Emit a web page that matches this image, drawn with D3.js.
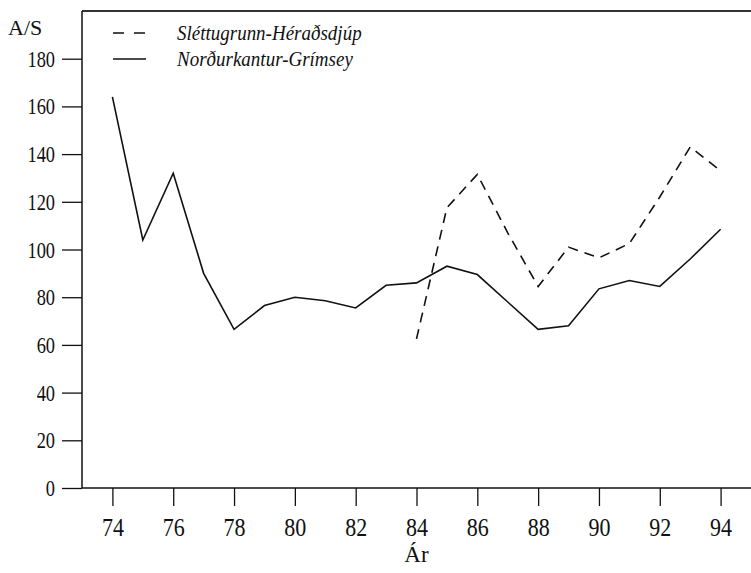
<!DOCTYPE html>
<html>
<head>
<meta charset="utf-8">
<script src="https://cdn.jsdelivr.net/npm/d3@7/dist/d3.min.js"></script>
<style>
  html, body { margin: 0; padding: 0; background: #fff; }
  svg { display: block; }
</style>
</head>
<body>
<svg id="chart" width="751" height="573"></svg>
<script>
// Ár (tveggja stafa ártal) og vísitala A/S fyrir hvort svæði
const yearsNG = [74, 75, 76, 77, 78, 79, 80, 81, 82, 83, 84, 85, 86, 87, 88, 89, 90, 91, 92, 93, 94];
const valuesNG = [164, 104, 132, 90, 66.5, 76.5, 80, 78.5, 75.5, 85, 86, 93, 89.5, 78, 66.5, 68, 83.5, 87, 84.5, 96, 108.5];

const yearsSH = [84, 85, 86, 87, 88, 89, 90, 91, 92, 93, 94];
const valuesSH = [62.5, 117.5, 131.5, 107, 84.5, 101, 96.5, 102.5, 122, 143, 133];

const xTicks = [74, 76, 78, 80, 82, 84, 86, 88, 90, 92, 94];
const yTicks = [0, 20, 40, 60, 80, 100, 120, 140, 160, 180];

const seriesNames = ["Sléttugrunn-Héraðsdjúp", "Norðurkantur-Grímsey"];

const serif = "'Liberation Serif'";

const svg = d3.select("#chart");
const plotL = 82, plotR = 751, plotT = 11, plotB = 488;

const x = d3.scaleLinear().domain([73, 95]).range([plotL, plotR]);
const y = d3.scaleLinear().domain([0, 200]).range([plotB, plotT]);

const ink = "#111";
const ySqueeze = 0.8;   // narrow, tall digits
const xSqueeze = 0.88;
const legendSqueeze = 0.95;

// top frame line
svg.append("line")
  .attr("x1", plotL).attr("x2", plotR)
  .attr("y1", plotT).attr("y2", plotT)
  .attr("stroke", "#333").attr("stroke-width", 2);

// y axis
const yAxis = svg.append("g")
  .attr("transform", `translate(${plotL},0)`)
  .call(d3.axisLeft(y).tickValues(yTicks).tickSizeInner(20).tickSizeOuter(0).tickPadding(8));
yAxis.attr("font-family", null);
yAxis.select(".domain").attr("stroke", ink).attr("stroke-width", 1.5)
  .attr("d", `M0,${plotT}V${plotB}`);
yAxis.selectAll(".tick line").attr("stroke", ink).attr("stroke-width", 1.3);
yAxis.selectAll(".tick text")
  .style("font-family", serif)
  .attr("font-size", 23)
  .attr("fill", ink)
  .attr("x", -27 / ySqueeze)
  .attr("dy", "0.33em")
  .attr("transform", `scale(${ySqueeze},1)`);

// x axis
const xAxis = svg.append("g")
  .attr("transform", `translate(0,${plotB})`)
  .call(d3.axisBottom(x).tickValues(xTicks).tickSizeInner(18).tickSizeOuter(0)
    .tickFormat(d3.format("d")));
xAxis.attr("font-family", null);
xAxis.select(".domain").attr("stroke", ink).attr("stroke-width", 1.5)
  .attr("d", `M${plotL},0H${plotR}`);
xAxis.selectAll(".tick line").attr("stroke", ink).attr("stroke-width", 1.3);
xAxis.selectAll(".tick text")
  .style("font-family", serif)
  .attr("font-size", 25)
  .attr("fill", ink)
  .attr("y", 48)
  .attr("dy", 0)
  .attr("transform", `scale(${xSqueeze},1)`);

// axis titles
svg.append("text")
  .attr("x", 8).attr("y", 28).attr("dy", "0.34em")
  .style("font-family", serif)
  .attr("font-size", 22)
  .attr("fill", ink)
  .text("A/S");

svg.append("text")
  .attr("x", (plotL + plotR) / 2).attr("y", 562)
  .attr("text-anchor", "middle")
  .style("font-family", serif)
  .attr("font-size", 23)
  .attr("fill", ink)
  .text("Ár");

// data lines
const line = d3.line().x(d => x(d[0])).y(d => y(d[1]));

svg.append("path")
  .datum(d3.zip(yearsSH, valuesSH))
  .attr("d", line)
  .attr("fill", "none")
  .attr("stroke", ink)
  .attr("stroke-width", 1.6)
  .attr("stroke-dasharray", "10,7");

svg.append("path")
  .datum(d3.zip(yearsNG, valuesNG))
  .attr("d", line)
  .attr("fill", "none")
  .attr("stroke", ink)
  .attr("stroke-width", 1.6)
  .attr("stroke-linejoin", "miter");

// legend
const legend = svg.append("g");
const legendRows = [
  { name: seriesNames[0], dash: "11,10", y: 33 },
  { name: seriesNames[1], dash: null, y: 59 }
];
legendRows.forEach(r => {
  legend.append("line")
    .attr("x1", 113).attr("x2", 146)
    .attr("y1", r.y).attr("y2", r.y)
    .attr("stroke", ink).attr("stroke-width", 1.5)
    .attr("stroke-dasharray", r.dash);
  legend.append("text")
    .attr("x", 177 / legendSqueeze).attr("y", r.y).attr("dy", "0.33em")
    .attr("transform", `scale(${legendSqueeze},1)`)
    .style("font-family", serif)
    .attr("font-size", 20)
    .attr("font-style", "italic")
    .attr("fill", ink)
    .text(r.name);
});
</script>
</body>
</html>
